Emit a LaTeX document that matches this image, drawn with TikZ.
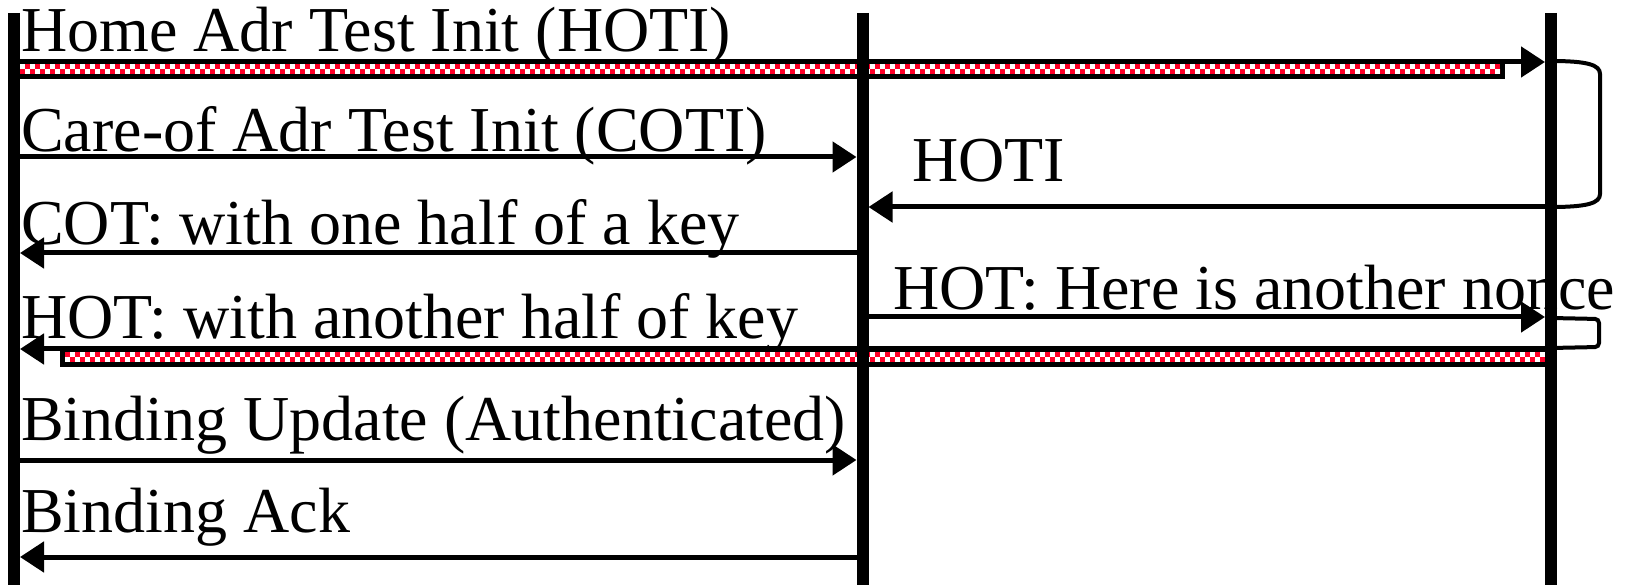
\documentclass[tikz,border=0pt]{standalone}
\usepackage{fontspec}
\setmainfont{Liberation Serif}
\usetikzlibrary{arrows.meta}
\definecolor{tunnelred}{RGB}{255,0,40}
\begin{document}
\begin{tikzpicture}[x=1pt,y=-1pt,
  lifeline/.style={line width=12pt},
  msg/.style={line width=5pt, shorten >=6pt, -{Triangle[length=24pt,width=30pt]}},
  loopback/.style={line width=4pt},
  lbl/.style={anchor=base west, inner sep=0pt, font=\fontsize{64}{70}\selectfont},
]
\useasboundingbox (0,0) rectangle (1634,585);

% lifelines: mobile node, correspondent node, home agent
\coordinate (mn) at (14,13);
\coordinate (cn) at (862.5,13);
\coordinate (ha) at (1551,13);
\coordinate (mnEnd) at (14,585);
\coordinate (cnEnd) at (862.5,585);
\coordinate (haEnd) at (1551,585);

% message rows
\coordinate (rHoti) at (0,62);
\coordinate (rCoti) at (0,157);
\coordinate (rHotiFwd) at (0,207);
\coordinate (rCot) at (0,253);
\coordinate (rHot) at (0,317);
\coordinate (rHotBack) at (0,349);
\coordinate (rBu) at (0,460);
\coordinate (rBa) at (0,557);

% labels
\node[lbl] (tHoti) at (21,52) {Home Adr Test Init (HOTI)};
\node[lbl] (tCoti) at (21,152) {Care-of Adr Test Init (COTI)};
\node[lbl] (tHotiFwd) at (912,182) {HOTI};
\node[lbl] (tCot) at (21,245) {COT: with one half of a key};
\node[lbl] (tHot) at (893,310) {HOT: Here is another nonce};
\node[lbl] (tHotBack) at (21,339) {HOT: with another half of key};
\node[lbl] (tBu) at (21,440) {Binding Update (Authenticated)};
\node[lbl] (tBa) at (21,532) {Binding Ack};

% tunnel towards the home agent
\fill (15,59.5) rectangle (1505,79.5);
\fill[white] (15,64.5) rectangle (1500,74.5);
\begin{scope}
  \clip (15,64.5) rectangle (1500,74.5);
  \foreach \x in {15,25,...,1495} {
    \fill[tunnelred] (\x,64.5) rectangle ++(5,5);
    \fill[tunnelred] (\x+5,69.5) rectangle ++(5,5);
  }
\end{scope}

% tunnel back from the home agent
\fill (60,346.5) rectangle (1551,367);
\fill[white] (65,352) rectangle (1551,362);
\begin{scope}
  \clip (65,352) rectangle (1551,362);
  \foreach \x in {65,75,...,1545} {
    \fill[tunnelred] (\x,352) rectangle ++(5,5);
    \fill[tunnelred] (\x+5,357) rectangle ++(5,5);
  }
\end{scope}

% messages
\draw[msg] (mn |- rHoti) -- (ha |- rHoti);
\draw[msg] (mn |- rCoti) -- (cn |- rCoti);
\draw[msg] (ha |- rHotiFwd) -- (cn |- rHotiFwd);
\draw[msg] (cn |- rCot) -- (mn |- rCot);
\draw[msg] (cn |- rHot) -- (ha |- rHot);
\draw[msg] (ha |- rHotBack) -- (mn |- rHotBack);
\draw[msg] (mn |- rBu) -- (cn |- rBu);
\draw[msg] (cn |- rBa) -- (mn |- rBa);

% forwarding loops at the home agent
\draw[loopback] (1551,61) .. controls (1588,61) and (1600,65) .. (1600,74)
  -- (1600,194) .. controls (1600,203) and (1588,207) .. (1551,207);
\draw[loopback, rounded corners=4pt] (1551,318) -- (1599,319) -- (1599,347) -- (1551,348);

% lifelines drawn on top
\draw[lifeline] (mn) -- (mnEnd);
\draw[lifeline] (cn) -- (cnEnd);
\draw[lifeline] (ha) -- (haEnd);
\end{tikzpicture}
\end{document}
